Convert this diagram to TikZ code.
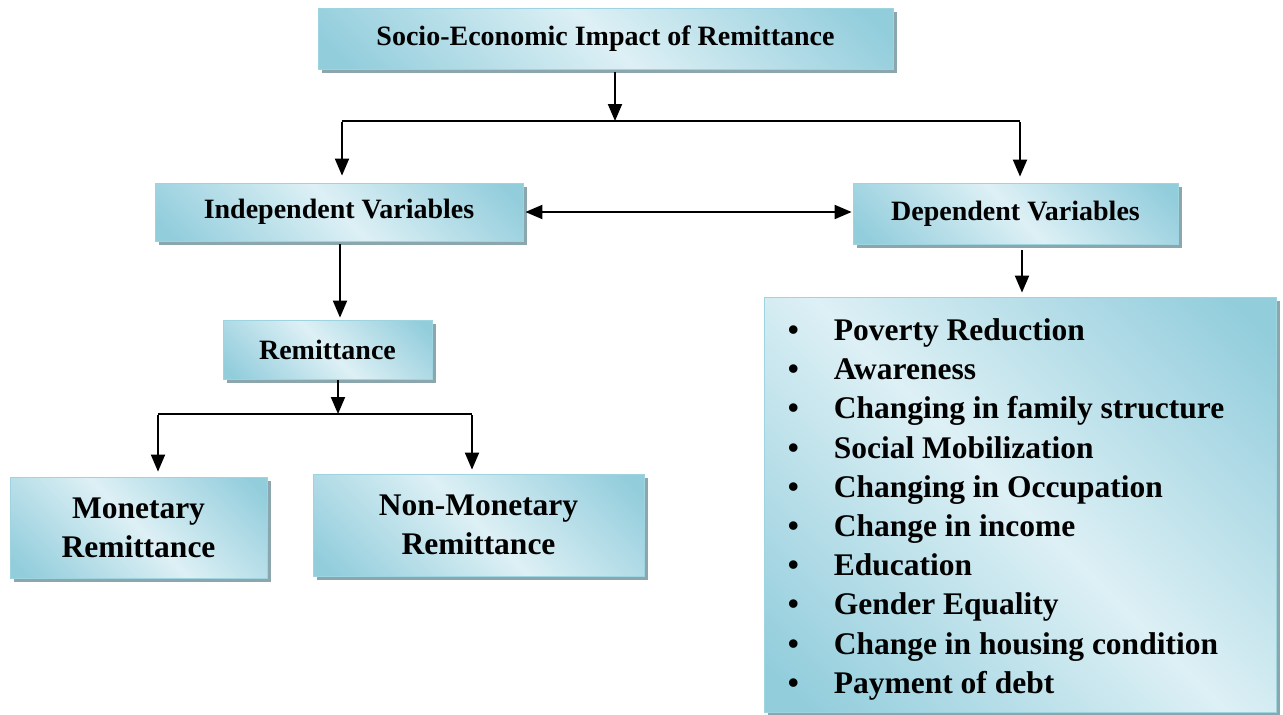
\documentclass[tikz,border=0pt]{standalone}
\usepackage{fontspec}
\setmainfont{Liberation Serif}
\usetikzlibrary{arrows.meta,shadows}

\definecolor{boxdark}{RGB}{146,205,220}
\definecolor{boxlight}{RGB}{221,240,245}
\definecolor{boxedge}{RGB}{158,211,224}
\definecolor{boxshadow}{RGB}{140,166,173}

% light band along the main diagonal, darker towards two opposite corners
\pgfdeclarehorizontalshading{boxshade}{100bp}{color(0bp)=(boxdark); color(18bp)=(boxdark); color(50bp)=(boxlight); color(82bp)=(boxdark); color(100bp)=(boxdark)}

\tikzset{
  box/.style={draw=boxedge, line width=0.8pt, shading=boxshade, shading angle=45,
    drop shadow={shadow xshift=4pt, shadow yshift=-4pt, fill=boxshadow, opacity=1},
    align=center, inner sep=0pt, font=\fontsize{28}{34}\selectfont\bfseries},
  bigbox/.style={box, font=\fontsize{31.5}{39}\selectfont\bfseries},
  conn/.style={line width=2pt},
  arr/.style={conn, -{Triangle[length=17pt,width=14pt]}},
  darr/.style={conn, {Triangle[length=17pt,width=14pt]}-{Triangle[length=17pt,width=14pt]}},
}

\begin{document}
\begin{tikzpicture}[x=1pt,y=-1pt]
\useasboundingbox (0,0) rectangle (1283,715);

% boxes
\node[box, minimum width=575pt, minimum height=61pt] (title) at (605.5,38.5) {Socio-Economic Impact of Remittance};
\node[box, minimum width=368pt, minimum height=58pt] (indep) at (339,212) {Independent Variables};
\node[box, minimum width=325pt, minimum height=61pt] (dep) at (1015.5,213.5) {Dependent Variables};
\node[box, minimum width=209pt, minimum height=59pt] (remit) at (327.5,349.5) {Remittance};
\node[bigbox, minimum width=257pt, minimum height=101pt] (mon) at (138.5,527.5) {Monetary\\Remittance};
\node[bigbox, minimum width=331pt, minimum height=102pt] (nonmon) at (478.5,525) {Non-Monetary\\Remittance};
\node[box, minimum width=512pt, minimum height=415pt] (list) at (1020,504.5) {};
\node[anchor=west, align=left, inner sep=0pt, font=\fontsize{31.5}{39.2}\selectfont\bfseries]
  (items) at ([xshift=24pt, yshift=-4.8pt]list.west)
  {\makebox[46pt][l]{\textbullet}Poverty Reduction\\
   \makebox[46pt][l]{\textbullet}Awareness\\
   \makebox[46pt][l]{\textbullet}Changing in family structure\\
   \makebox[46pt][l]{\textbullet}Social Mobilization\\
   \makebox[46pt][l]{\textbullet}Changing in Occupation\\
   \makebox[46pt][l]{\textbullet}Change in income\\
   \makebox[46pt][l]{\textbullet}Education\\
   \makebox[46pt][l]{\textbullet}Gender Equality\\
   \makebox[46pt][l]{\textbullet}Change in housing condition\\
   \makebox[46pt][l]{\textbullet}Payment of debt};

% junction points of the branching connectors
\coordinate (j1) at (615,121);
\coordinate (jL) at (342,121);
\coordinate (jR) at (1020,121);
\coordinate (j2) at (338,414);
\coordinate (j2L) at (158,414);
\coordinate (j2R) at (472,414);
\coordinate (dx) at (1022,0);

% top level split
\draw[arr, shorten <=3pt] (title.south -| j1) -- (j1);
\draw[conn] (jL) -- (jR);
\draw[arr, shorten >=7pt] ([yshift=-1pt]jL) -- (jL |- indep.north);
\draw[arr, shorten >=6pt] ([yshift=-1pt]jR) -- (jR |- dep.north);

% link between the two variable groups
\draw[darr, shorten <=2pt, shorten >=1pt] (indep.east) -- (indep.east -| dep.west);

% independent side
\draw[arr, shorten <=3pt, shorten >=2pt] ([xshift=1pt]indep.south) -- ([xshift=1pt]indep.south |- remit.north);
\draw[arr, shorten <=1pt] (remit.south -| j2) -- (j2);
\draw[conn] (j2L) -- (j2R);
\draw[arr, shorten >=5pt] ([yshift=-1pt]j2L) -- (j2L |- mon.north);
\draw[arr, shorten >=4pt] ([yshift=-1pt]j2R) -- (j2R |- nonmon.north);

% dependent side
\draw[arr, shorten <=6pt, shorten >=4pt] (dep.south -| dx) -- (list.north -| dx);
\end{tikzpicture}
\end{document}
